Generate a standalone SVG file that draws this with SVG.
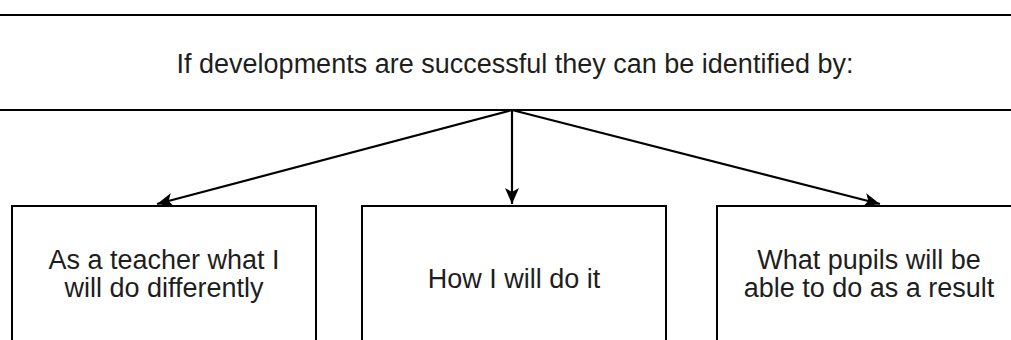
<svg xmlns="http://www.w3.org/2000/svg" width="1011" height="340" viewBox="0 0 1011 340">
  <style>
    .box { fill: #ffffff; stroke: #000000; stroke-width: 2; }
    .lbl { font-family: "Liberation Sans", Arial, sans-serif; font-size: 27px; fill: #1e1e1e; text-anchor: middle; }
    .conn { stroke: #000000; stroke-width: 2.2; fill: none; marker-end: url(#arrow); }
  </style>
  <defs>
    <marker id="arrow" markerUnits="userSpaceOnUse" markerWidth="20" markerHeight="16" refX="16" refY="7" orient="auto">
      <path d="M16,7 L0,0 L4,7 L0,14 Z" fill="#000000"/>
    </marker>
  </defs>
  <rect width="1011" height="340" fill="#ffffff"/>
  <g id="node-top">
    <rect class="box" x="-10" y="15" width="1031" height="95"/>
    <text class="lbl" x="515" y="73">If developments are successful they can be identified by:</text>
  </g>
  <g id="node-left">
    <rect class="box" x="12" y="206" width="304" height="160"/>
    <text class="lbl" x="164" y="269">As a teacher what I</text>
    <text class="lbl" x="164" y="297">will do differently</text>
  </g>
  <g id="node-middle">
    <rect class="box" x="362" y="206" width="304" height="160"/>
    <text class="lbl" x="514" y="288">How I will do it</text>
  </g>
  <g id="node-right">
    <rect class="box" x="717" y="206" width="304" height="160"/>
    <text class="lbl" x="869" y="269">What pupils will be</text>
    <text class="lbl" x="869" y="297">able to do as a result</text>
  </g>
  <g id="connectors">
    <line class="conn" x1="512" y1="110" x2="157" y2="204"/>
    <line class="conn" x1="512" y1="110" x2="512" y2="204"/>
    <line class="conn" x1="512" y1="110" x2="880" y2="204"/>
  </g>
</svg>
